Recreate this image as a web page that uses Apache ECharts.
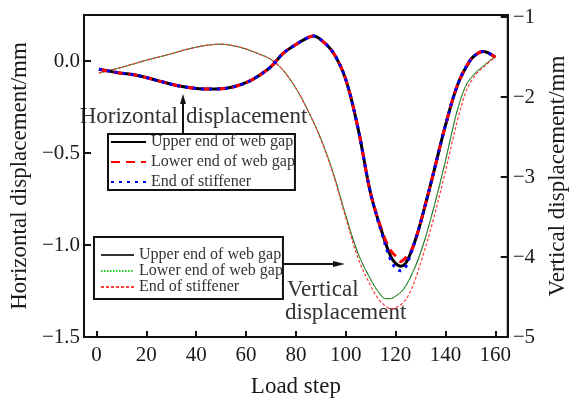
<!DOCTYPE html>
<html>
<head>
<meta charset="utf-8">
<script src="https://cdn.jsdelivr.net/npm/echarts@6/dist/echarts.min.js"></script>
<style>
  html, body { margin: 0; padding: 0; background: #fff; }
  #chart { width: 577px; height: 403px; }
</style>
</head>
<body>
<div id="chart"></div>
<script>
// Load steps at which the horizontal displacements were sampled
const stepsH = [1, 5, 10, 15, 20, 25, 30, 35, 40, 45, 50, 55, 60, 65, 70, 75, 80, 85, 87, 90, 95, 100, 105, 110, 115, 118, 120, 122, 124, 126, 128, 130, 135, 140, 145, 150, 153, 155, 157, 160];
// Horizontal displacement (mm), left axis
const hUpper = [-0.045, -0.055, -0.066, -0.075, -0.09, -0.108, -0.126, -0.14, -0.149, -0.152, -0.151, -0.14, -0.118, -0.081, -0.031, 0.043, 0.09, 0.128, 0.136, 0.116, 0.045, -0.10, -0.37, -0.72, -0.95, -1.06, -1.10, -1.115, -1.10, -1.045, -0.97, -0.88, -0.62, -0.35, -0.125, 0.005, 0.042, 0.052, 0.045, 0.02];
const hLower = [-0.045, -0.055, -0.066, -0.075, -0.09, -0.108, -0.126, -0.14, -0.149, -0.152, -0.151, -0.14, -0.118, -0.081, -0.031, 0.043, 0.09, 0.128, 0.136, 0.116, 0.045, -0.10, -0.37, -0.72, -0.94, -1.03, -1.06, -1.09, -1.07, -1.04, -0.97, -0.88, -0.62, -0.35, -0.125, 0.005, 0.042, 0.052, 0.045, 0.02];
const hStiff = [-0.045, -0.055, -0.066, -0.075, -0.09, -0.108, -0.126, -0.14, -0.149, -0.152, -0.151, -0.14, -0.118, -0.081, -0.031, 0.043, 0.09, 0.128, 0.136, 0.116, 0.045, -0.10, -0.37, -0.72, -0.96, -1.08, -1.125, -1.14, -1.12, -1.05, -0.97, -0.88, -0.62, -0.35, -0.125, 0.005, 0.042, 0.052, 0.045, 0.02];

// Load steps at which the vertical displacements were sampled
const stepsV = [1, 5, 10, 15, 20, 25, 30, 35, 40, 45, 50, 55, 60, 65, 70, 75, 80, 85, 90, 95, 100, 105, 110, 113, 116, 118, 120, 123, 126, 130, 135, 140, 142, 145, 148, 150, 153, 155, 158, 160];
// Vertical displacement (mm), right axis
const vUpper = [-1.70, -1.67, -1.63, -1.585, -1.54, -1.50, -1.46, -1.415, -1.378, -1.35, -1.34, -1.36, -1.40, -1.46, -1.53, -1.67, -1.89, -2.18, -2.52, -2.95, -3.48, -3.96, -4.28, -4.43, -4.52, -4.52, -4.49, -4.41, -4.25, -3.95, -3.42, -2.80, -2.52, -2.14, -1.87, -1.77, -1.67, -1.62, -1.54, -1.50];
const vLower = [-1.70, -1.67, -1.63, -1.585, -1.54, -1.50, -1.46, -1.415, -1.378, -1.35, -1.34, -1.36, -1.40, -1.46, -1.53, -1.67, -1.89, -2.18, -2.52, -2.95, -3.48, -3.96, -4.28, -4.43, -4.52, -4.52, -4.49, -4.41, -4.25, -3.95, -3.42, -2.80, -2.52, -2.14, -1.87, -1.77, -1.67, -1.62, -1.54, -1.50];
const vStiff = [-1.70, -1.67, -1.63, -1.585, -1.54, -1.50, -1.46, -1.415, -1.378, -1.35, -1.34, -1.36, -1.40, -1.46, -1.53, -1.67, -1.89, -2.18, -2.53, -2.97, -3.51, -4.02, -4.36, -4.52, -4.615, -4.645, -4.635, -4.57, -4.43, -4.08, -3.55, -2.93, -2.66, -2.27, -1.95, -1.82, -1.69, -1.635, -1.55, -1.50];

// Axis ticks and legend captions
const xTicks = [0, 20, 40, 60, 80, 100, 120, 140, 160];
const leftTicks = [-1.5, -1.0, -0.5, 0.0];
const rightTicks = [-5, -4, -3, -2, -1];
const captions = ['Upper end of web gap', 'Lower end of web gap', 'End of stiffener'];

const pairs = (xs, ys) => xs.map((x, i) => [x, ys[i]]);
const minus = s => String(s).replace('-', '\u2212');

const FONT = '"Liberation Serif", "Times New Roman", serif';
const INK = '#1a1a1a';

const chart = echarts.init(document.getElementById('chart'), null, { renderer: 'canvas' });

function line(id, xs, ys, yIdx, color, width, type, z) {
  return {
    id: id, name: id, type: 'line', yAxisIndex: yIdx,
    data: pairs(xs, ys), smooth: 0.35, symbol: 'none', z: z,
    lineStyle: { color: color, width: width, type: type, cap: 'butt' },
    itemStyle: { color: color },
    emphasis: { disabled: true }, animation: false
  };
}

const captionOf = {
  hUpper: captions[0], hLower: captions[1], hStiff: captions[2],
  vUpper: captions[0], vLower: captions[1], vStiff: captions[2]
};

// legend keys show only the line stroke, no marker
const legendBase = {
  orient: 'vertical',
  borderColor: '#111', borderWidth: 2, backgroundColor: 'transparent',
  textStyle: { fontFamily: FONT, fontSize: 16, color: '#333', lineHeight: 14 },
  itemStyle: { opacity: 0 },
  formatter: n => captionOf[n], selectedMode: false, itemHeight: 12
};

const axisLineStyle = { show: true, onZero: false, lineStyle: { color: '#111', width: 2 } };
const nameStyle = { fontFamily: FONT, fontSize: 23, color: INK };

chart.setOption({
  animation: false,
  grid: { left: 78, right: 65, top: 15, bottom: 66, show: true, borderColor: '#111', borderWidth: 2, backgroundColor: 'transparent' },
  xAxis: {
    type: 'value', min: -5, max: 165,
    name: 'Load step', nameLocation: 'middle', nameGap: 38,
    nameTextStyle: nameStyle,
    axisLine: axisLineStyle,
    axisTick: { inside: true, length: 6, lineStyle: { color: '#111', width: 2 }, customValues: xTicks },
    axisLabel: { customValues: xTicks, fontFamily: FONT, fontSize: 21, color: INK, margin: 8 },
    splitLine: { show: false }
  },
  yAxis: [{
    type: 'value', min: -1.5, max: 0.25, position: 'left',
    name: 'Horizontal displacement/mm', nameLocation: 'middle', nameGap: 46, nameRotate: 90,
    nameTextStyle: nameStyle,
    axisLine: axisLineStyle,
    axisTick: { inside: true, length: 7, lineStyle: { color: '#111', width: 2 }, customValues: leftTicks },
    axisLabel: { customValues: leftTicks, fontFamily: FONT, fontSize: 21, color: INK, margin: 4,
      formatter: v => minus(v.toFixed(1)) },
    splitLine: { show: false }
  }, {
    type: 'value', min: -5, max: -0.975, position: 'right',
    name: 'Vertical displacement/mm', nameLocation: 'middle', nameGap: 38, nameRotate: 90,
    nameTextStyle: nameStyle,
    axisLine: axisLineStyle,
    axisTick: { inside: true, length: 7, lineStyle: { color: '#111', width: 2 }, customValues: rightTicks },
    axisLabel: { customValues: rightTicks, fontFamily: FONT, fontSize: 21, color: INK, margin: 5,
      formatter: v => minus(Math.round(v)) },
    splitLine: { show: false }
  }],
  legend: [
    Object.assign({}, legendBase, {
      data: ['hUpper', 'hLower', 'hStiff'], left: 108, top: 134,
      itemWidth: 35, itemGap: 4, padding: [0, 0, 0, 2]
    }),
    Object.assign({}, legendBase, {
      data: ['vUpper', 'vLower', 'vStiff'], left: 94, top: 237,
      itemWidth: 33, itemGap: 0, padding: [10, 0, 4, 6]
    })
  ],
  series: [
    line('vUpper', stepsV, vUpper, 1, '#333', 1, 'solid', 2),
    line('vLower', stepsV, vLower, 1, '#22cc22', 1.2, [1.5, 1.5], 3),
    line('vStiff', stepsV, vStiff, 1, '#ff3b3b', 1.2, [3, 2], 4),
    line('hUpper', stepsH, hUpper, 0, '#000', 3, 'solid', 5),
    line('hLower', stepsH, hLower, 0, '#ff0000', 3, [9, 6], 6),
    line('hStiff', stepsH, hStiff, 0, '#0000ff', 3, [3, 5], 7)
  ],
  graphic: [
    // arrow pointing up at the horizontal curves
    { type: 'line', shape: { x1: 183, y1: 133, x2: 183, y2: 102 }, style: { stroke: '#111', lineWidth: 2 } },
    { type: 'polygon', shape: { points: [[183, 94], [180, 104], [186, 104]] }, style: { fill: '#111' } },
    { type: 'text', style: { text: 'Horizontal', x: 178, y: 117, align: 'right', verticalAlign: 'middle', font: '23px ' + FONT, fill: '#333' } },
    { type: 'text', style: { text: 'displacement', x: 186, y: 117, align: 'left', verticalAlign: 'middle', font: '23px ' + FONT, fill: '#333' } },
    // arrow pointing right at the vertical curves
    { type: 'line', shape: { x1: 284, y1: 264, x2: 336, y2: 264 }, style: { stroke: '#111', lineWidth: 2 } },
    { type: 'polygon', shape: { points: [[345, 264], [333, 261], [333, 267]] }, style: { fill: '#111' } },
    { type: 'text', style: { text: 'Vertical', x: 287, y: 290, align: 'left', verticalAlign: 'middle', font: '23px ' + FONT, fill: '#333' } },
    { type: 'text', style: { text: 'displacement', x: 285, y: 313, align: 'left', verticalAlign: 'middle', font: '23px ' + FONT, fill: '#333' } }
  ]
});
</script>
</body>
</html>
